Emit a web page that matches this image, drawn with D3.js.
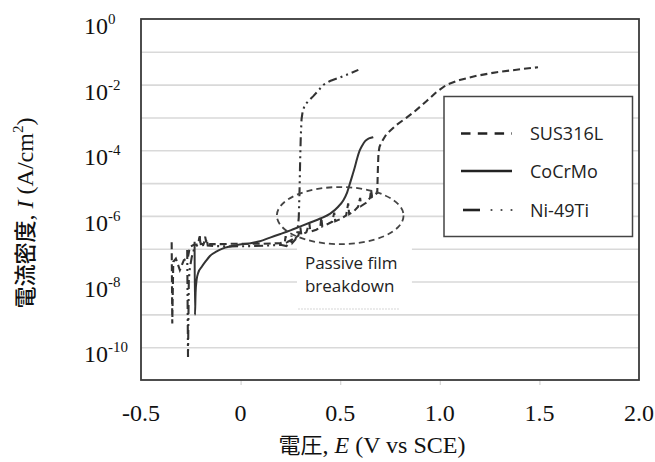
<!DOCTYPE html>
<html>
<head>
<meta charset="utf-8">
<script src="https://cdn.jsdelivr.net/npm/d3@7"></script>
<style>
  html, body { margin: 0; padding: 0; background: #fff; }
  svg { display: block; }
</style>
</head>
<body>
<svg id="chart" width="655" height="462"></svg>
<script>
// Potentiodynamic polarization curves: [potential E (V vs SCE), log10 current density (A/cm^2)]
const sus316l = [
  [-0.346,-6.80],[-0.343,-9.28],[-0.338,-7.40],[-0.325,-7.30],[-0.305,-7.65],[-0.285,-7.35],
  [-0.265,-7.28],[-0.255,-6.95],[-0.235,-6.88],[-0.215,-6.87],[-0.205,-6.62],[-0.200,-6.86],
  [-0.185,-6.85],[-0.178,-6.63],[-0.170,-6.87],[-0.150,-6.86],[-0.100,-6.86],[-0.050,-6.85],
  [0.000,-6.85],[0.050,-6.85],[0.100,-6.85],[0.150,-6.84],[0.200,-6.83],[0.222,-6.80],
  [0.226,-6.62],[0.232,-6.80],[0.260,-6.72],[0.290,-6.60],[0.300,-6.35],[0.305,-6.58],
  [0.330,-6.50],[0.345,-6.22],[0.350,-6.48],[0.380,-6.42],[0.400,-6.35],[0.405,-6.05],
  [0.410,-6.32],[0.440,-6.24],[0.460,-6.18],[0.470,-5.90],[0.475,-6.16],[0.500,-6.10],
  [0.530,-5.98],[0.540,-5.62],[0.545,-5.95],[0.570,-5.85],[0.590,-5.72],[0.600,-5.45],
  [0.605,-5.70],[0.630,-5.60],[0.650,-5.45],[0.655,-5.20],[0.660,-5.42],[0.686,-5.30],
  [0.689,-4.60],[0.692,-4.10],[0.697,-3.90],[0.705,-3.78],[0.733,-3.50],[0.784,-3.22],
  [0.830,-3.02],[0.867,-2.85],[0.934,-2.50],[0.984,-2.22],[1.035,-2.00],[1.100,-1.86],
  [1.185,-1.73],[1.286,-1.62],[1.367,-1.56],[1.420,-1.52],[1.493,-1.47]
];
const cocrmo = [
  [-0.231,-6.79],[-0.229,-9.02],[-0.226,-8.35],[-0.221,-7.96],[-0.212,-7.72],[-0.195,-7.55],
  [-0.175,-7.38],[-0.154,-7.22],[-0.120,-7.08],[-0.088,-6.99],[-0.020,-6.89],[0.050,-6.83],
  [0.097,-6.77],[0.148,-6.66],[0.200,-6.55],[0.250,-6.44],[0.300,-6.32],[0.350,-6.20],
  [0.400,-6.08],[0.450,-5.93],[0.490,-5.72],[0.516,-5.52],[0.535,-5.28],[0.549,-5.01],
  [0.562,-4.75],[0.574,-4.50],[0.585,-4.25],[0.597,-4.02],[0.610,-3.86],[0.625,-3.72],
  [0.640,-3.65],[0.655,-3.62],[0.666,-3.60]
];
const ni49ti = [
  [-0.268,-7.04],[-0.264,-10.30],[-0.260,-7.95],[-0.255,-7.60],[-0.245,-7.25],[-0.232,-6.98],
  [-0.215,-6.88],[-0.205,-6.66],[-0.200,-6.90],[-0.180,-6.88],[-0.170,-6.70],[-0.165,-6.90],
  [-0.120,-6.92],[-0.050,-6.93],[0.050,-6.92],[0.150,-6.90],[0.200,-6.88],[0.230,-6.92],
  [0.250,-6.80],[0.255,-6.60],[0.260,-6.82],[0.275,-6.72],[0.285,-6.50],[0.292,-6.05],
  [0.296,-5.20],[0.299,-4.30],[0.302,-3.60],[0.306,-3.05],[0.312,-2.80],[0.323,-2.62],
  [0.340,-2.50],[0.365,-2.35],[0.399,-2.12],[0.415,-2.01],[0.449,-1.89],[0.499,-1.78],
  [0.541,-1.68],[0.591,-1.55]
];

const seriesNames = ["SUS316L", "CoCrMo", "Ni-49Ti"];
const xTickValues = [-0.5, 0, 0.5, 1.0, 1.5, 2.0];
const xTickLabels = ["-0.5", "0", "0.5", "1.0", "1.5", "2.0"];
const yTickExponents = [0, -2, -4, -6, -8, -10];
const yGridExponents = [-1, -2, -3, -4, -5, -6, -7, -8, -9, -10];

const svg = d3.select("#chart");
const M = { left: 141, top: 19, right: 16, bottom: 82 };
const W = 655, H = 462;

const x = d3.scaleLinear().domain([-0.5, 2.0]).range([M.left, W - M.right]);
const y = d3.scaleLog().domain([1, 1e-11]).range([M.top, H - M.bottom]);
const yl = v => y(Math.pow(10, v));

const serif = "'Liberation Serif','Times New Roman',serif";
const sans = "'Open Sans','Liberation Sans',sans-serif";
const cjk = "'Noto Sans CJK JP','Noto Sans CJK SC',sans-serif";
const ink = "#333";

// horizontal gridlines, one per decade
svg.append("g")
  .attr("transform", `translate(${M.left},0)`)
  .call(d3.axisLeft(y)
    .tickValues(yGridExponents.map(e => Math.pow(10, e)))
    .tickSize(-(W - M.left - M.right))
    .tickFormat(""))
  .call(g => g.select(".domain").remove())
  .call(g => g.selectAll(".tick line").attr("stroke", "#d9d9d9").attr("stroke-width", 1.6));

// faint ticks under the bottom frame
svg.append("g")
  .attr("transform", `translate(0,${H - M.bottom})`)
  .call(d3.axisBottom(x).tickValues([0, 0.5, 1.0, 1.5]).tickSize(5).tickFormat(""))
  .call(g => g.select(".domain").remove())
  .call(g => g.selectAll(".tick line").attr("stroke", "#d4d4d4").attr("stroke-width", 1.2));

// annotation label backdrop (covers gridlines)
const noteX0 = x(0.283), noteX1 = x(0.86);
const noteY0 = yl(-6.92), noteY1 = yl(-8.87);
svg.append("rect")
  .attr("x", noteX0).attr("y", noteY0)
  .attr("width", noteX1 - noteX0).attr("height", noteY1 - noteY0)
  .attr("fill", "#fff");
svg.append("line")
  .attr("x1", noteX0 + 1).attr("x2", x(0.80))
  .attr("y1", noteY1 - 1).attr("y2", noteY1 - 1)
  .attr("stroke", "#e4e4e4").attr("stroke-width", 1.5).attr("stroke-dasharray", "2,1");

// curves
const line = d3.line().x(d => x(d[0])).y(d => yl(d[1]));
const smooth = d3.line().x(d => x(d[0])).y(d => yl(d[1])).curve(d3.curveMonotoneX);

const styles = {
  "SUS316L": { dash: "7,4", width: 2.1 },
  "CoCrMo": { dash: null, width: 2.0 },
  "Ni-49Ti": { dash: "9,4,2,4,2,4", width: 2.1 }
};

svg.append("path").datum(ni49ti).attr("d", line)
  .attr("fill", "none").attr("stroke", ink).attr("stroke-width", styles["Ni-49Ti"].width)
  .attr("stroke-dasharray", styles["Ni-49Ti"].dash);
svg.append("path").datum(sus316l).attr("d", line)
  .attr("fill", "none").attr("stroke", ink).attr("stroke-width", styles["SUS316L"].width)
  .attr("stroke-dasharray", styles["SUS316L"].dash);
svg.append("path").datum(cocrmo).attr("d", smooth)
  .attr("fill", "none").attr("stroke", ink).attr("stroke-width", styles["CoCrMo"].width);

// dashed ellipse marking passive film breakdown
const ecx = x(0.50), ecy = yl(-5.99);
svg.append("ellipse")
  .attr("cx", ecx).attr("cy", ecy)
  .attr("rx", x(0.818) - ecx).attr("ry", yl(-6.86) - ecy)
  .attr("fill", "none").attr("stroke", "#444").attr("stroke-width", 1.8)
  .attr("stroke-dasharray", "6,4");

// annotation text
const note = svg.append("text")
  .attr("font-family", sans).attr("font-size", 17).attr("fill", "#222");
note.append("tspan").attr("x", x(0.323)).attr("y", noteY0 + 23).text("Passive film");
note.append("tspan").attr("x", x(0.323)).attr("y", noteY0 + 46).text("breakdown");

// plot frame
svg.append("rect")
  .attr("x", M.left).attr("y", M.top)
  .attr("width", W - M.left - M.right).attr("height", H - M.top - M.bottom)
  .attr("fill", "none").attr("stroke", "#3a3a3a").attr("stroke-width", 1.8);

// legend
const lg = svg.append("g");
lg.append("rect").attr("x", 444).attr("y", 96.5).attr("width", 188.5).attr("height", 140)
  .attr("fill", "#fff").attr("stroke", "#444").attr("stroke-width", 1.5);
const legendRows = [133.5, 171, 210];
seriesNames.forEach((name, i) => {
  const ly = legendRows[i];
  if (name === "Ni-49Ti") {
    lg.append("line").attr("x1", 463).attr("x2", 480).attr("y1", ly).attr("y2", ly)
      .attr("stroke", "#222").attr("stroke-width", 2.6);
    [491.5, 501.5, 511.5].forEach(dx => lg.append("circle")
      .attr("cx", dx).attr("cy", ly).attr("r", 1.1).attr("fill", "#444"));
  } else {
    lg.append("line").attr("x1", 461).attr("x2", 512).attr("y1", ly).attr("y2", ly)
      .attr("stroke", "#222").attr("stroke-width", 2.6)
      .attr("stroke-dasharray", name === "SUS316L" ? "9.5,7.3" : null);
  }
  lg.append("text").attr("x", 530).attr("y", ly + 6.5)
    .attr("font-family", sans).attr("font-size", 18).attr("fill", "#222")
    .text(name);
});

// y tick labels: 10^n
yTickExponents.forEach(e => {
  const t = svg.append("text")
    .attr("x", 84).attr("y", y(Math.pow(10, e)) + 15)
    .attr("font-family", serif).attr("font-size", 24).attr("fill", "#111");
  t.append("tspan").text("10");
  t.append("tspan").attr("font-size", 15).attr("dy", -10).text(String(e));
});

// x tick labels
xTickValues.forEach((v, i) => {
  svg.append("text")
    .attr("x", x(v)).attr("y", 421)
    .attr("text-anchor", "middle")
    .attr("font-family", serif).attr("font-size", 24).attr("fill", "#111")
    .text(xTickLabels[i]);
});

// axis titles
const xt = svg.append("text")
  .attr("x", (x(-0.5) + x(2.0)) / 2 - 18).attr("y", 453)
  .attr("text-anchor", "middle")
  .attr("font-family", serif).attr("font-size", 24).attr("fill", "#111");
xt.append("tspan").attr("font-family", cjk).attr("font-size", 22).text("電圧");
xt.append("tspan").text(", ");
xt.append("tspan").attr("font-style", "italic").text("E");
xt.append("tspan").text(" (V vs SCE)");

const ytTitle = svg.append("text")
  .attr("transform", "translate(33,213) rotate(-90)")
  .attr("text-anchor", "middle")
  .attr("font-family", serif).attr("font-size", 24).attr("fill", "#111");
ytTitle.append("tspan").attr("font-family", cjk).attr("font-size", 22).attr("font-weight", 500).text("電流密度");
ytTitle.append("tspan").text(", ");
ytTitle.append("tspan").attr("font-style", "italic").text("I");
ytTitle.append("tspan").text(" (A/cm");
ytTitle.append("tspan").attr("font-size", 15).attr("dy", -10).text("2");
ytTitle.append("tspan").attr("dy", 10).text(")");
</script>
</body>
</html>
